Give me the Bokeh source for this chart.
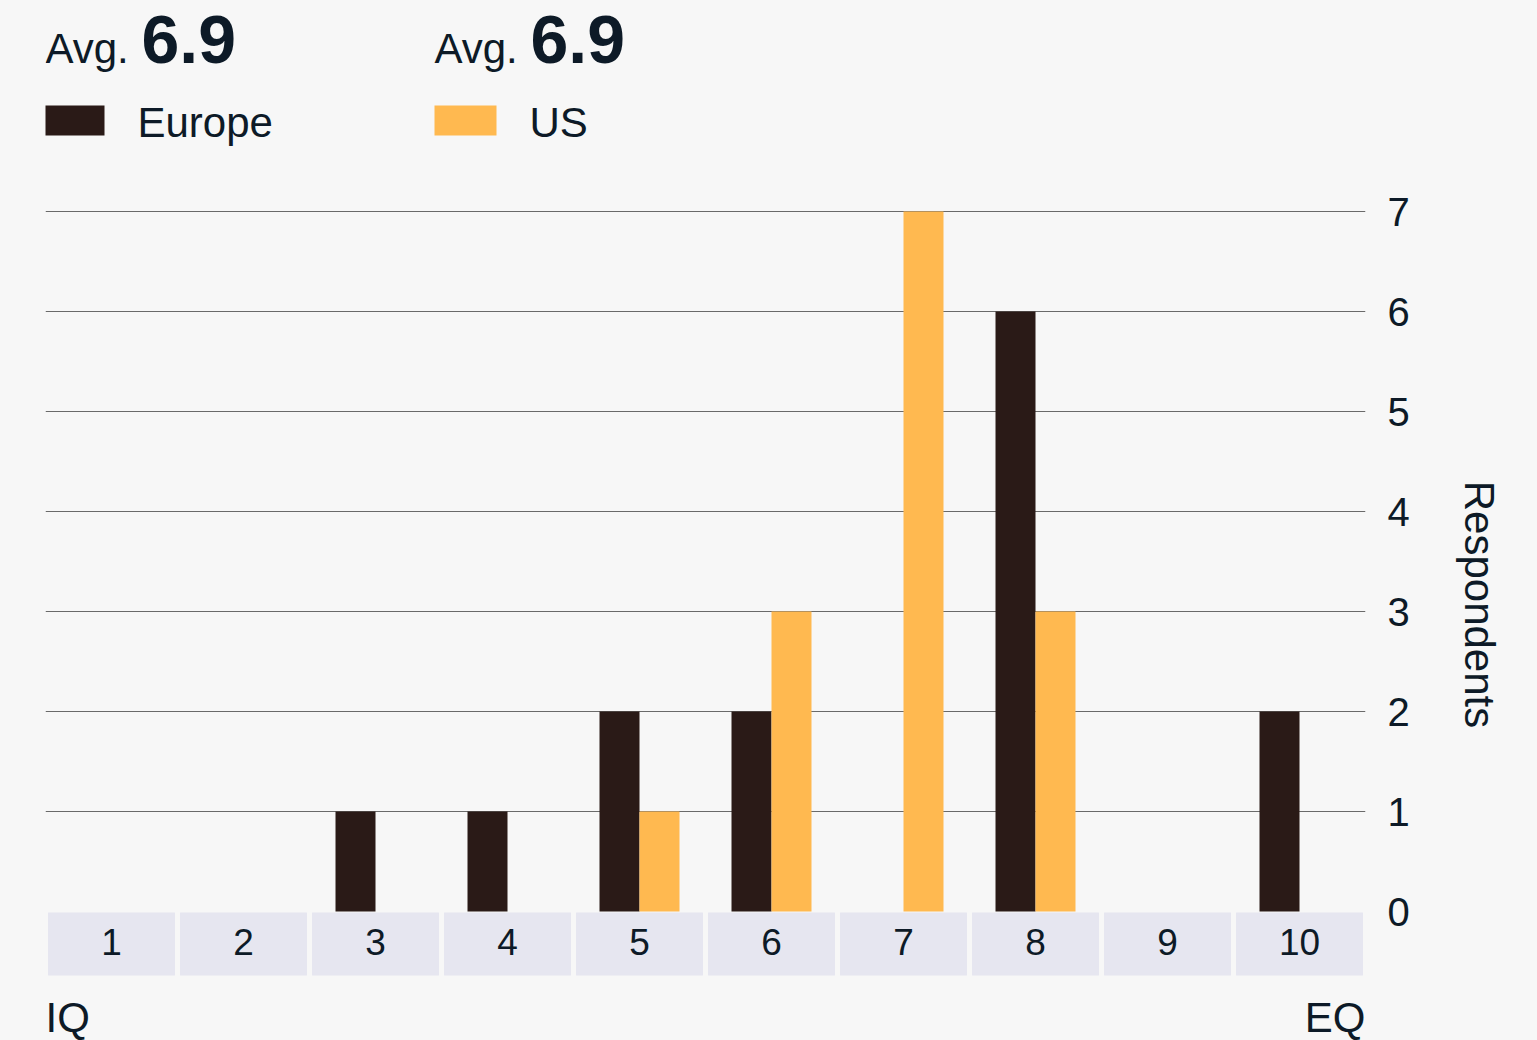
from bokeh.plotting import figure
from bokeh.layouts import column
from bokeh.models import Range1d, FixedTicker, ColumnDataSource
from bokeh.core.properties import value
from bokeh.embed import file_html
from bokeh.resources import INLINE

# Scores on the IQ (1) to EQ (10) scale and respondent counts per region
scores = [1, 2, 3, 4, 5, 6, 7, 8, 9, 10]
europe = [0, 0, 1, 1, 2, 2, 0, 6, 0, 2]
us = [0, 0, 0, 0, 1, 3, 7, 3, 0, 0]
y_ticks = [0, 1, 2, 3, 4, 5, 6, 7]

BG = "#f7f7f7"
INK = "#0d1a27"
DARK = "#2a1a17"
ORANGE = "#ffb950"
BOX = "#e6e6f0"
FONT = value("Liberation Sans")


def average(counts):
    return sum(s * c for s, c in zip(scores, counts)) / sum(counts)


# ---------- header: averages and legend (pixel coordinates) ----------
# the column aligns this frame with the chart frame below (x 45..1365)
head = figure(width=1537, height=168, output_backend="svg", toolbar_location=None,
              x_range=Range1d(45, 1365), y_range=Range1d(168, 0),
              min_border=0, x_axis_location=None, y_axis_location=None)
head.background_fill_color = BG
head.border_fill_color = BG
head.outline_line_color = None
head.grid.visible = False

groups = [("Europe", europe, DARK, 42, 45), ("US", us, ORANGE, 434, 434)]
for name, counts, color, sx, tx in groups:
    avg_txt = f"{average(counts):.1f}"
    head.text(x=[tx], y=[48], text=["Avg."], text_font=FONT, text_font_size="42px",
              text_color=INK, text_baseline="middle", text_align="left")
    head.text(x=[tx + 96], y=[39], text=[avg_txt], text_font=FONT, text_font_size="68px",
              text_font_style="bold", text_color=INK, text_baseline="middle",
              text_align="left")
    head.quad(left=[sx], right=[sx + 62], top=[105], bottom=[135], fill_color=color,
              line_color=None)
    head.text(x=[sx + 95], y=[122], text=[name], text_font=FONT, text_font_size="42px",
              text_color=INK, text_baseline="middle", text_align="left")

# ---------- bar chart ----------
p = figure(width=1537, height=872, output_backend="svg", toolbar_location=None,
           x_range=Range1d(0.5, 10.5), y_range=Range1d(-1.29, 7.43),
           x_axis_location=None, y_axis_location="right",
           min_border_left=45, min_border_right=172, min_border_top=0, min_border_bottom=0)
p.background_fill_color = BG
p.border_fill_color = BG
p.outline_line_color = None

p.xgrid.visible = False
p.ygrid.ticker = FixedTicker(ticks=y_ticks[1:])
p.ygrid.grid_line_color = "#6a6a6a"
p.ygrid.grid_line_width = 1

ax = p.yaxis[0]
ax.ticker = FixedTicker(ticks=y_ticks)
ax.axis_line_color = None
ax.major_tick_line_color = None
ax.minor_tick_line_color = None
ax.major_tick_out = 0
ax.major_label_standoff = 22
ax.major_label_text_font = "Liberation Sans"
ax.major_label_text_font_size = "40px"
ax.major_label_text_color = INK
ax.axis_label = "Respondents"
ax.axis_label_text_font = "Liberation Sans"
ax.axis_label_text_font_size = "42px"
ax.axis_label_text_font_style = "normal"
ax.axis_label_text_color = INK
ax.axis_label_standoff = 43

bar_w = 0.303
src = ColumnDataSource(dict(
    score=scores, europe=europe, us=us,
    eu_x=[s - bar_w / 2 for s in scores],
    us_x=[s + bar_w / 2 for s in scores],
    label=[str(s) for s in scores],
))
p.vbar(x="eu_x", top="europe", bottom=0, width=bar_w, source=src,
       fill_color=DARK, line_color=None)
p.vbar(x="us_x", top="us", bottom=0, width=bar_w, source=src,
       fill_color=ORANGE, line_color=None)

# score boxes under the baseline
p.rect(x="score", y=-0.325, width=0.962, height=0.63, source=src,
       fill_color=BOX, line_color=None)
p.text(x="score", y=-0.30, text="label", source=src, text_font=FONT,
       text_font_size="37px", text_color=INK, text_align="center",
       text_baseline="middle")

# scale end captions
p.text(x=[0.5], y=[-1.06], text=["IQ"], text_font=FONT, text_font_size="42px",
       text_color=INK, text_align="left", text_baseline="middle")
p.text(x=[10.5], y=[-1.06], text=["EQ"], text_font=FONT, text_font_size="42px",
       text_color=INK, text_align="right", text_baseline="middle")

layout = column(head, p, spacing=0)
layout.styles = {"background-color": BG}

with open("out.html", "w") as f:
    f.write(file_html(layout, INLINE))
